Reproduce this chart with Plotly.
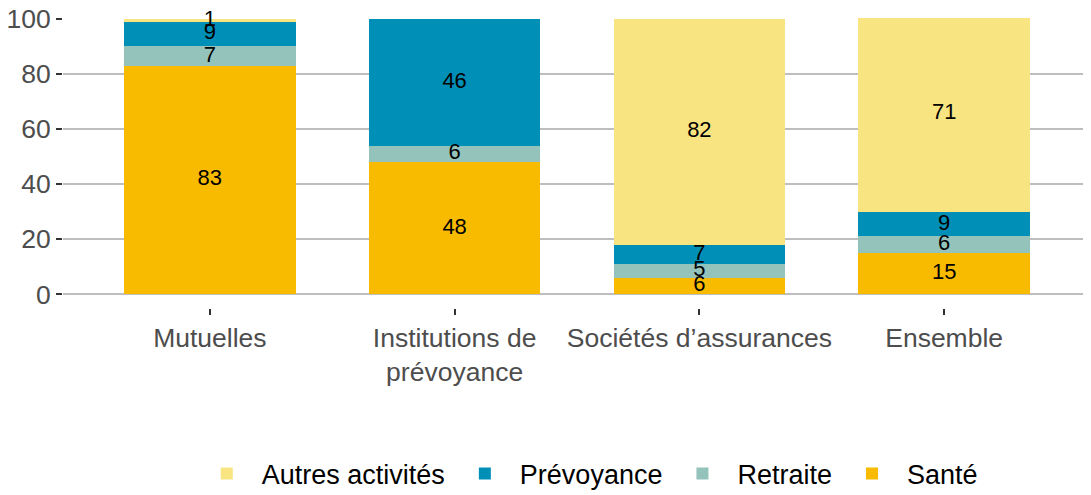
import plotly.graph_objects as go

categories = ["Mutuelles", "Institutions de<br>prévoyance", "Sociétés d’assurances", "Ensemble"]
sante = [83, 48, 6, 15]
retraite = [7, 6, 5, 6]
prevoyance = [9, 46, 7, 9]
autres = [1, 0, 82, 71]

series = [
    ("Santé", sante, "#F9BB00"),
    ("Retraite", retraite, "#94C3BC"),
    ("Prévoyance", prevoyance, "#008FB7"),
    ("Autres activités", autres, "#F9E482"),
]

fig = go.Figure()

base = [0] * len(categories)
for name, values, color in series:
    fig.add_trace(
        go.Bar(
            x=categories,
            y=values,
            name=name,
            marker=dict(color=color, line=dict(width=0)),
            hoverinfo="skip",
        )
    )
    # value labels centred in each segment
    mids = [b + v / 2 for b, v in zip(base, values)]
    fig.add_trace(
        go.Scatter(
            x=categories,
            y=mids,
            mode="text",
            text=[str(v) if v > 0 else "" for v in values],
            textfont=dict(size=22, color="black"),
            showlegend=False,
            cliponaxis=False,
            hoverinfo="skip",
        )
    )
    base = [b + v for b, v in zip(base, values)]

tick_style = dict(
    ticks="outside",
    ticklen=6,
    tickwidth=1.5,
    tickcolor="#333333",
    tickfont=dict(size=26.5, color="#4D4D4D"),
    ticklabeloverflow="allow",
    automargin=False,
)

# the page body adds an 8px margin, so the figure is a bit smaller than the window
fig.update_layout(
    barmode="stack",
    bargap=0.3,
    width=1083,
    height=487,
    margin=dict(l=55, r=0, t=10, b=187, autoexpand=False),
    plot_bgcolor="white",
    paper_bgcolor="white",
    font=dict(family="Liberation Sans, Arial, sans-serif", size=26, color="#4D4D4D"),
    xaxis=dict(range=[-0.6, 3.6], showgrid=False, showline=False, **tick_style),
    yaxis=dict(
        range=[-5, 100.3],
        tickvals=[0, 20, 40, 60, 80, 100],
        showgrid=True,
        gridcolor="#BEBEBE",
        gridwidth=1.5,
        zeroline=False,
        showline=False,
        **tick_style,
    ),
    legend=dict(
        orientation="h",
        traceorder="reversed",
        x=0.51,
        xanchor="center",
        y=-0.572,
        yanchor="middle",
        font=dict(size=27, color="black"),
        itemwidth=60,
    ),
)

fig.write_html("out.html")
